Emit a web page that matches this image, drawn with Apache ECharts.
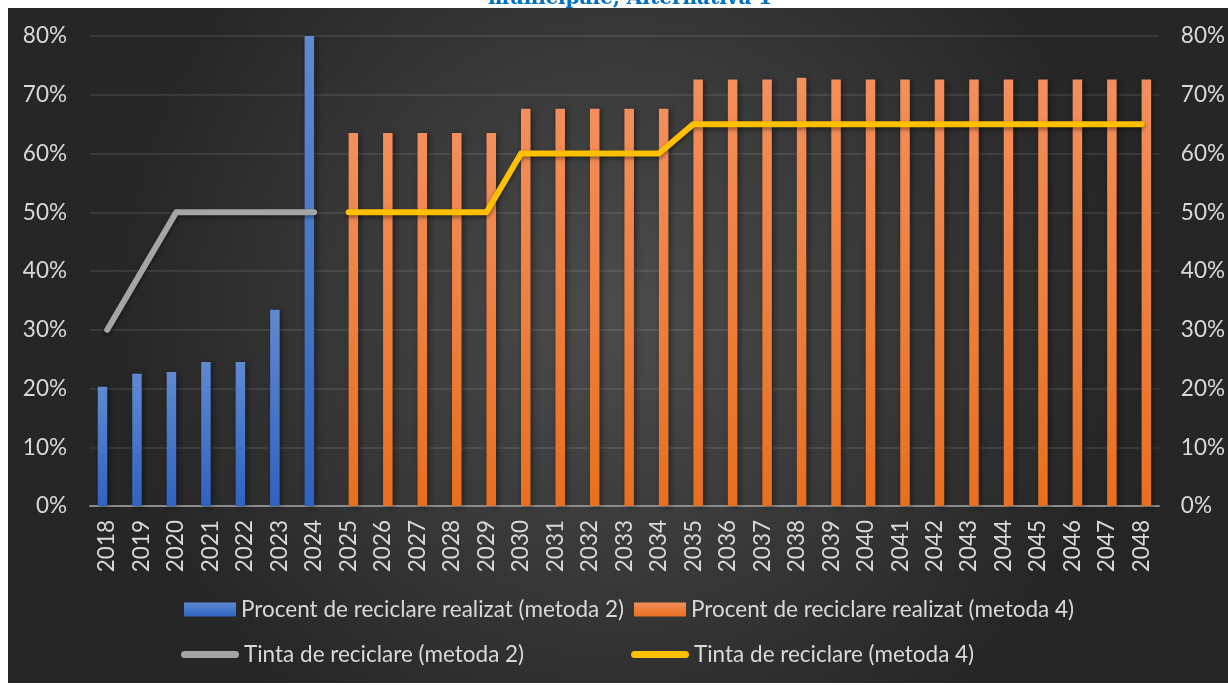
<!DOCTYPE html>
<html>
<head>
<meta charset="utf-8">
<script src="https://cdn.jsdelivr.net/npm/echarts@6/dist/echarts.min.js"></script>
<style>
  html, body { margin: 0; padding: 0; background: #ffffff; }
  #chart { width: 1228px; height: 686px; }
</style>
</head>
<body>
<div id="chart"></div>
<script>
// Years on the category axis
const years = [];
for (let y = 2018; y <= 2048; y++) years.push(String(y));

// Achieved recycling rate, method 2 (2018-2024), in %
const realizatM2 = [20.3, 22.5, 22.8, 24.5, 24.5, 33.4, 80,
  null, null, null, null, null, null, null, null, null, null,
  null, null, null, null, null, null, null, null, null, null, null, null, null, null];

// Achieved recycling rate, method 4 (2025-2048), in %
const realizatM4 = [null, null, null, null, null, null, null,
  63.5, 63.5, 63.5, 63.5, 63.5,
  67.6, 67.6, 67.6, 67.6, 67.6,
  72.6, 72.6, 72.6, 72.9, 72.6, 72.6, 72.6, 72.6, 72.6, 72.6, 72.6, 72.6, 72.6, 72.6];

// Recycling target, method 2, in %
const tintaM2 = [30, 40, 50, 50, 50, 50, 50,
  null, null, null, null, null, null, null, null, null, null,
  null, null, null, null, null, null, null, null, null, null, null, null, null, null];

// Recycling target, method 4, in %
const tintaM4 = [null, null, null, null, null, null, null,
  50, 50, 50, 50, 50,
  60, 60, 60, 60, 60,
  65, 65, 65, 65, 65, 65, 65, 65, 65, 65, 65, 65, 65, 65];

const names = [
  'Procent de reciclare realizat (metoda 2)',
  'Procent de reciclare realizat (metoda 4)',
  'Tinta de reciclare (metoda 2)',
  'Tinta de reciclare (metoda 4)'
];
const titleText = 'municipale, Alternativa 1';

const FONT = 'Lato';
const FS = 22.5;
const TXT = '#d9d9d9';

const blueGrad = new echarts.graphic.LinearGradient(0, 0, 0, 1, [
  { offset: 0, color: '#5f8ad2' }, { offset: 1, color: '#2f63c1' }
]);
const orangeGrad = new echarts.graphic.LinearGradient(0, 0, 0, 1, [
  { offset: 0, color: '#f48f5c' }, { offset: 1, color: '#e86f1e' }
]);

const capsule = 'path://M3.5,0 L54.5,0 A3.5,3.5 0 0 1 54.5,7 L3.5,7 A3.5,3.5 0 0 1 3.5,0 Z';

function legendAt(name, left, top, icon, w, h) {
  return {
    data: [name], left: left, top: top, padding: 0, icon: icon,
    itemWidth: w, itemHeight: h, itemGap: 0, selectedMode: false,
    textStyle: { color: TXT, fontSize: FS, fontFamily: FONT }
  };
}

const chart = echarts.init(document.getElementById('chart'), null, { renderer: 'canvas' });

const yAxisBase = {
  type: 'value', min: 0, max: 80, interval: 10,
  axisLine: { show: false }, axisTick: { show: false },
  axisLabel: { formatter: '{value}%', color: TXT, fontSize: FS, fontFamily: FONT }
};

chart.setOption({
  backgroundColor: '#ffffff',
  animation: false,
  graphic: [
    {
      type: 'text', z: -20, left: 488, top: -11,
      style: { text: titleText, fill: '#0070c0', font: 'bold 20px "DejaVu Serif"' }
    },
    {
      type: 'rect', z: -10, shape: { x: 8, y: 8, width: 1220, height: 675 },
      style: {
        fill: new echarts.graphic.RadialGradient(0.5, 0.45, 0.75, [
          { offset: 0, color: '#4c4c4c' }, { offset: 1, color: '#262626' }
        ])
      }
    }
  ],
  grid: { left: 90, right: 66, top: 36, bottom: 180, containLabel: false },
  legend: [
    legendAt(names[0], 184, 598, 'rect', 52, 14),
    legendAt(names[1], 634, 598, 'rect', 52, 14),
    legendAt(names[2], 181, 643, capsule, 58, 7),
    legendAt(names[3], 631, 643, capsule, 58, 7)
  ],
  xAxis: {
    type: 'category', data: years, boundaryGap: true,
    axisLine: { lineStyle: { color: '#8c8c8c', width: 2 } },
    axisTick: { show: false },
    axisLabel: { rotate: 90, margin: 14, color: TXT, fontSize: FS, fontFamily: FONT, interval: 0 }
  },
  yAxis: [
    Object.assign({}, yAxisBase, {
      position: 'left',
      axisLabel: Object.assign({}, yAxisBase.axisLabel, { margin: 23 }),
      splitLine: { lineStyle: { color: 'rgba(255,255,255,0.12)', width: 1.5 } }
    }),
    Object.assign({}, yAxisBase, {
      position: 'right',
      axisLabel: Object.assign({}, yAxisBase.axisLabel, { margin: 22 }),
      splitLine: { show: false }
    })
  ],
  series: [
    {
      name: names[0], type: 'bar', data: realizatM2, barWidth: 9.5, barGap: '0%',
      itemStyle: { color: blueGrad, shadowBlur: 6, shadowColor: 'rgba(0,0,0,0.45)', shadowOffsetX: 2, shadowOffsetY: 1 }
    },
    {
      name: names[1], type: 'bar', data: realizatM4, barWidth: 9.5, barGap: '0%',
      itemStyle: { color: orangeGrad, shadowBlur: 6, shadowColor: 'rgba(0,0,0,0.45)', shadowOffsetX: 2, shadowOffsetY: 1 }
    },
    {
      name: names[2], type: 'line', data: tintaM2, yAxisIndex: 0,
      symbol: 'none', showSymbol: false, color: '#a5a5a5',
      lineStyle: { width: 6, cap: 'round', join: 'round', color: '#a5a5a5',
        shadowBlur: 4, shadowColor: 'rgba(0,0,0,0.45)', shadowOffsetY: 2 },
      z: 3
    },
    {
      name: names[3], type: 'line', data: tintaM4, yAxisIndex: 0,
      symbol: 'none', showSymbol: false, color: '#ffc000',
      lineStyle: { width: 6, cap: 'round', join: 'round', color: '#ffc000',
        shadowBlur: 4, shadowColor: 'rgba(0,0,0,0.45)', shadowOffsetY: 2 },
      z: 3
    }
  ]
});
</script>
</body>
</html>
